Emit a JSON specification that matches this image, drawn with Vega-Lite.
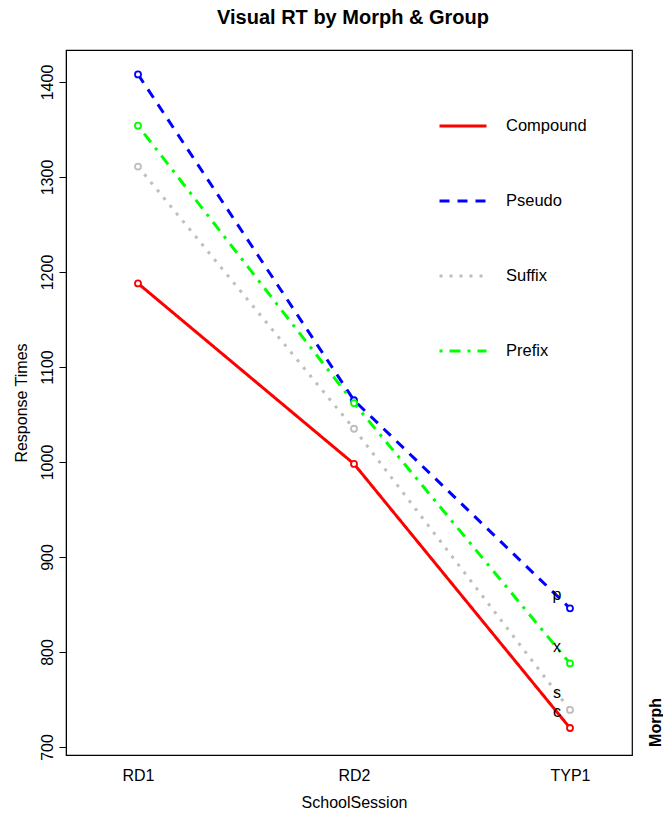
{
  "$schema": "https://vega.github.io/schema/vega-lite/v6.json",
  "width": 566,
  "height": 705,
  "autosize": "none",
  "padding": {"left": 66, "top": 50, "right": 31, "bottom": 61},
  "background": "white",
  "config": {
    "font": "Liberation Sans",
    "view": {"stroke": "black", "strokeWidth": 1.2},
    "axis": {"grid": false, "labelFont": "Liberation Sans", "titleFont": "Liberation Sans", "labelFontSize": 16, "titleFontSize": 16, "titleFontWeight": "normal", "labelColor": "black", "titleColor": "black", "tickColor": "black", "domain": false}
  },
  "title": {"text": "Visual RT by Morph & Group", "fontSize": 20, "fontWeight": "bold", "font": "Liberation Sans", "anchor": "middle", "offset": 22, "color": "black", "dx": 4},
  "datasets": {
    "means": [
      {"session": "RD1", "morph": "Compound", "rt": 1188},
      {"session": "RD2", "morph": "Compound", "rt": 998},
      {"session": "TYP1", "morph": "Compound", "rt": 720},
      {"session": "RD1", "morph": "Pseudo", "rt": 1408},
      {"session": "RD2", "morph": "Pseudo", "rt": 1065},
      {"session": "TYP1", "morph": "Pseudo", "rt": 846},
      {"session": "RD1", "morph": "Suffix", "rt": 1311},
      {"session": "RD2", "morph": "Suffix", "rt": 1035},
      {"session": "TYP1", "morph": "Suffix", "rt": 739},
      {"session": "RD1", "morph": "Prefix", "rt": 1354},
      {"session": "RD2", "morph": "Prefix", "rt": 1062},
      {"session": "TYP1", "morph": "Prefix", "rt": 788}
    ],
    "letters": [
      {"session": "TYP1", "morph": "Pseudo", "lab": "p", "rt": 860},
      {"session": "TYP1", "morph": "Prefix", "lab": "x", "rt": 805},
      {"session": "TYP1", "morph": "Suffix", "lab": "s", "rt": 757},
      {"session": "TYP1", "morph": "Compound", "lab": "c", "rt": 737}
    ]
  },
  "layer": [
    {
      "data": {"name": "means"},
      "mark": {"type": "line", "strokeWidth": 3, "strokeCap": "butt"},
      "encoding": {
        "x": {"field": "session", "type": "ordinal", "scale": {"type": "point", "domain": ["RD1", "RD2", "TYP1"], "range": [72, 504], "padding": 0}, "axis": {"title": "SchoolSession", "labelAngle": 0, "ticks": false, "labelPadding": 12, "titlePadding": 11}},
        "y": {"field": "rt", "type": "quantitative", "scale": {"domain": [691.6, 1433.7], "nice": false, "zero": false}, "axis": {"title": "Response Times", "values": [700, 800, 900, 1000, 1100, 1200, 1300, 1400], "format": "d", "labelAngle": 270, "tickSize": 7, "labelPadding": 4, "titlePadding": 10, "domain": true, "domainColor": "black"}},
        "color": {"field": "morph", "type": "nominal", "scale": {"domain": ["Compound", "Pseudo", "Suffix", "Prefix"], "range": ["#ff0000", "#0000ff", "#bebebe", "#00ff00"]}, "legend": {"orient": "none", "legendX": 372, "legendY": 51, "title": null, "symbolType": "stroke", "symbolSize": 2209, "symbolStrokeWidth": 3, "labelFontSize": 16.5, "labelFont": "Liberation Sans", "labelColor": "black", "labelOffset": 18, "rowPadding": 41, "padding": 0}},
        "strokeDash": {"field": "morph", "type": "nominal", "scale": {"domain": ["Compound", "Pseudo", "Suffix", "Prefix"], "range": [[1, 0], [10, 8], [3, 7], [3, 7, 11, 7]]}}
      }
    },
    {
      "data": {"name": "means"},
      "mark": {"type": "point", "shape": "circle", "filled": false, "fill": "white", "fillOpacity": 1, "strokeWidth": 1.8, "size": 36, "opacity": 1},
      "encoding": {
        "x": {"field": "session", "type": "ordinal"},
        "y": {"field": "rt", "type": "quantitative", "axis": {"orient": "right", "title": "Morph", "labels": false, "ticks": false, "domain": false, "titleAngle": 270, "titleFontWeight": "bold", "titleX": 23, "titleY": 672, "titleAlign": "center", "titleBaseline": "middle"}},
        "stroke": {"field": "morph", "type": "nominal", "scale": {"domain": ["Compound", "Pseudo", "Suffix", "Prefix"], "range": ["#ff0000", "#0000ff", "#bebebe", "#00ff00"]}, "legend": null}
      }
    },
    {
      "data": {"name": "letters"},
      "mark": {"type": "text", "fontSize": 16, "font": "Liberation Sans", "color": "black", "dx": -13, "baseline": "middle"},
      "encoding": {
        "x": {"field": "session", "type": "ordinal"},
        "y": {"field": "rt", "type": "quantitative", "axis": null},
        "text": {"field": "lab"}
      }
    }
  ],
  "resolve": {"axis": {"y": "independent"}}
}
